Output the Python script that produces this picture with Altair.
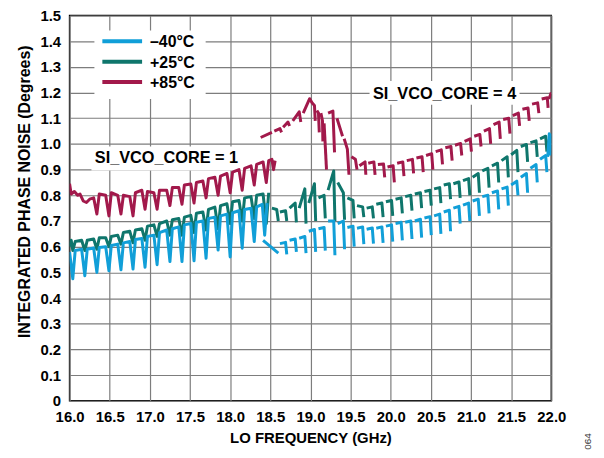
import altair as alt
import pandas as pd

X_TICKS = [16.0, 16.5, 17.0, 17.5, 18.0, 18.5, 19.0, 19.5, 20.0, 20.5, 21.0, 21.5, 22.0]
Y_TICKS = [0.0, 0.1, 0.2, 0.3, 0.4, 0.5, 0.6, 0.7, 0.8, 0.9, 1.0, 1.1, 1.2, 1.3, 1.4, 1.5]
SERIES = ["\u201340°C", "+25°C", "+85°C"]
COLORS = ["#119fd8", "#0f766c", "#a2194b"]
ANNOTATIONS = ["SI_VCO_CORE = 1", "SI_VCO_CORE = 4"]
FIG_ID = ["064"]

# (frequency GHz, integrated phase noise deg); None = break in the trace
BLUE = [
    (16.00, 0.58), (16.04, 0.475), (16.07, 0.585), (16.15, 0.59), (16.19, 0.487), (16.22, 0.59),
    (16.30, 0.595), (16.34, 0.50), (16.37, 0.597), (16.45, 0.60), (16.49, 0.506), (16.52, 0.605),
    (16.60, 0.61), (16.64, 0.51), (16.67, 0.615), (16.75, 0.62), (16.79, 0.513), (16.82, 0.628),
    (16.90, 0.632), (16.94, 0.52), (16.97, 0.64), (17.05, 0.645), (17.09, 0.53), (17.12, 0.655),
    (17.21, 0.665), (17.25, 0.542), (17.28, 0.67), (17.36, 0.677), (17.40, 0.542), (17.43, 0.685),
    (17.51, 0.69), (17.55, 0.545), (17.58, 0.695), (17.66, 0.70), (17.70, 0.555), (17.73, 0.71),
    (17.81, 0.715), (17.85, 0.587), (17.88, 0.72), (17.96, 0.727), (18.00, 0.56), (18.03, 0.732),
    (18.11, 0.74), (18.15, 0.594), (18.18, 0.745), (18.26, 0.75), (18.30, 0.62), (18.33, 0.755),
    (18.40, 0.765), (18.43, 0.645), (18.46, 0.77),
    None, (18.41, 0.625), (18.60, 0.575),
    None, (18.62, 0.612), (18.69, 0.617), (18.705, 0.57),
    None, (18.74, 0.625), (18.81, 0.63), (18.825, 0.58),
    None, (18.86, 0.633), (18.93, 0.64), (18.945, 0.575),
    None, (18.98, 0.66), (19.05, 0.667), (19.065, 0.58),
    None, (19.10, 0.67), (19.17, 0.675), (19.185, 0.585),
    None, (19.22, 0.70), (19.29, 0.70), (19.305, 0.567),
    None, (19.34, 0.69), (19.41, 0.70), (19.425, 0.59),
    None, (19.46, 0.675), (19.53, 0.68), (19.545, 0.60),
    None, (19.58, 0.672), (19.65, 0.677), (19.665, 0.61),
    None, (19.70, 0.668), (19.77, 0.673), (19.785, 0.612),
    None, (19.82, 0.672), (19.89, 0.677), (19.905, 0.615),
    None, (19.94, 0.68), (20.01, 0.685), (20.025, 0.62),
    None, (20.06, 0.69), (20.13, 0.695), (20.145, 0.625),
    None, (20.18, 0.695), (20.25, 0.70), (20.265, 0.63),
    None, (20.30, 0.70), (20.37, 0.707), (20.385, 0.635),
    None, (20.42, 0.712), (20.49, 0.717), (20.505, 0.645),
    None, (20.54, 0.72), (20.61, 0.727), (20.625, 0.65),
    None, (20.66, 0.735), (20.73, 0.742), (20.745, 0.66),
    None, (20.78, 0.75), (20.85, 0.757), (20.865, 0.69),
    None, (20.90, 0.762), (20.97, 0.77), (20.985, 0.70),
    None, (21.02, 0.778), (21.09, 0.785), (21.105, 0.72),
    None, (21.14, 0.795), (21.21, 0.80), (21.225, 0.73),
    None, (21.26, 0.81), (21.33, 0.817), (21.345, 0.745),
    None, (21.38, 0.825), (21.45, 0.832), (21.465, 0.76),
    None, (21.50, 0.84), (21.57, 0.855), (21.585, 0.80),
    None, (21.62, 0.87), (21.69, 0.885), (21.705, 0.81),
    None, (21.74, 0.905), (21.81, 0.92), (21.825, 0.85),
    None, (21.86, 0.94), (21.93, 0.955), (21.945, 0.89),
    None, (21.955, 0.95), (21.975, 1.04), (21.985, 0.96), (22.0, 1.04),
]

TEAL = [
    (16.00, 0.60), (16.02, 0.625), (16.04, 0.585), (16.07, 0.62), (16.15, 0.625), (16.19, 0.585),
    (16.22, 0.625), (16.30, 0.63), (16.34, 0.59), (16.37, 0.635), (16.45, 0.635), (16.49, 0.60),
    (16.52, 0.64), (16.60, 0.645), (16.64, 0.61), (16.67, 0.655), (16.75, 0.66), (16.79, 0.615),
    (16.82, 0.665), (16.90, 0.67), (16.94, 0.625), (16.97, 0.68), (17.05, 0.685), (17.09, 0.64),
    (17.12, 0.69), (17.21, 0.70), (17.25, 0.645), (17.28, 0.705), (17.36, 0.71), (17.40, 0.645),
    (17.43, 0.715), (17.51, 0.722), (17.55, 0.655), (17.58, 0.73), (17.66, 0.735), (17.70, 0.665),
    (17.73, 0.745), (17.81, 0.754), (17.85, 0.67), (17.88, 0.76), (17.96, 0.767), (18.00, 0.69),
    (18.03, 0.775), (18.11, 0.78), (18.15, 0.70), (18.18, 0.79), (18.26, 0.795), (18.30, 0.71),
    (18.33, 0.80), (18.41, 0.805), (18.45, 0.69), (18.48, 0.81),
    None, (18.52, 0.75), (18.58, 0.745), (18.60, 0.70),
    None, (18.62, 0.735), (18.69, 0.74), (18.705, 0.70),
    None, (18.74, 0.75), (18.81, 0.77), (18.825, 0.695),
    None, (18.86, 0.75), (18.93, 0.825), (18.945, 0.69),
    None, (18.98, 0.77), (19.05, 0.845), (19.065, 0.70),
    None, (19.10, 0.79), (19.17, 0.80), (19.185, 0.71),
    None, (19.22, 0.82), (19.29, 0.895), (19.305, 0.70),
    None, (19.34, 0.85), (19.41, 0.81), (19.425, 0.705),
    None, (19.46, 0.79), (19.53, 0.78), (19.545, 0.71),
    None, (19.58, 0.76), (19.65, 0.755), (19.665, 0.715),
    None, (19.70, 0.75), (19.77, 0.755), (19.785, 0.71),
    None, (19.82, 0.765), (19.89, 0.77), (19.905, 0.715),
    None, (19.94, 0.775), (20.01, 0.78), (20.025, 0.72),
    None, (20.06, 0.785), (20.13, 0.79), (20.145, 0.73),
    None, (20.18, 0.795), (20.25, 0.80), (20.265, 0.74),
    None, (20.30, 0.805), (20.37, 0.81), (20.385, 0.75),
    None, (20.42, 0.815), (20.49, 0.82), (20.505, 0.76),
    None, (20.54, 0.825), (20.61, 0.83), (20.625, 0.77),
    None, (20.66, 0.84), (20.73, 0.845), (20.745, 0.785),
    None, (20.78, 0.845), (20.85, 0.852), (20.865, 0.79),
    None, (20.90, 0.857), (20.97, 0.865), (20.985, 0.80),
    None, (21.02, 0.87), (21.09, 0.885), (21.105, 0.81),
    None, (21.14, 0.895), (21.21, 0.905), (21.225, 0.83),
    None, (21.26, 0.915), (21.33, 0.925), (21.345, 0.85),
    None, (21.38, 0.935), (21.45, 0.95), (21.465, 0.87),
    None, (21.50, 0.958), (21.57, 0.975), (21.585, 0.89),
    None, (21.62, 0.99), (21.69, 0.998), (21.705, 0.93),
    None, (21.74, 1.005), (21.81, 1.012), (21.825, 0.95),
    None, (21.86, 1.02), (21.93, 1.03), (21.945, 0.97),
    None, (21.955, 1.0), (21.99, 1.03),
]

RED = [
    (16.00, 0.845), (16.02, 0.805), (16.06, 0.815), (16.10, 0.80), (16.13, 0.805), (16.17, 0.778),
    (16.21, 0.772), (16.25, 0.785), (16.30, 0.79), (16.34, 0.727), (16.37, 0.805), (16.45, 0.80),
    (16.49, 0.72), (16.52, 0.81), (16.60, 0.80), (16.64, 0.727), (16.67, 0.80), (16.75, 0.795),
    (16.79, 0.72), (16.82, 0.81), (16.90, 0.82), (16.94, 0.746), (16.97, 0.815), (17.05, 0.81),
    (17.09, 0.746), (17.12, 0.82), (17.21, 0.82), (17.25, 0.76), (17.28, 0.83), (17.36, 0.83),
    (17.40, 0.765), (17.43, 0.84), (17.51, 0.844), (17.55, 0.77), (17.58, 0.85), (17.66, 0.856),
    (17.70, 0.79), (17.73, 0.865), (17.81, 0.87), (17.85, 0.80), (17.88, 0.875), (17.96, 0.885),
    (18.00, 0.81), (18.03, 0.89), (18.11, 0.90), (18.15, 0.82), (18.18, 0.905), (18.26, 0.915),
    (18.30, 0.84), (18.33, 0.92), (18.41, 0.93), (18.45, 0.85), (18.48, 0.935), (18.52, 0.94),
    (18.54, 0.90), (18.56, 0.935),
    None, (18.38, 1.025), (18.52, 1.045),
    None, (18.55, 1.05), (18.62, 1.06), (18.64, 1.045),
    None, (18.66, 1.065), (18.72, 1.085), (18.74, 1.07),
    None, (18.78, 1.09), (18.86, 1.125), (18.88, 1.085),
    None, (18.91, 1.12), (18.99, 1.176), (19.02, 1.16), (19.05, 1.15), (19.06, 1.09),
    None, (19.08, 1.13), (19.10, 1.12), (19.11, 1.045),
    None, (19.13, 1.12), (19.15, 1.09), (19.155, 1.01),
    None, (19.17, 1.08), (19.20, 0.90),
    None, (19.22, 1.12), (19.28, 1.128), (19.30, 0.967),
    None, (19.33, 1.10), (19.38, 1.05), (19.40, 1.03),
    None, (19.42, 1.02), (19.46, 0.98), (19.48, 0.88),
    None, (19.51, 0.95), (19.56, 0.94), (19.58, 0.90),
    None, (19.61, 0.915), (19.68, 0.93), (19.69, 0.88),
    None, (19.72, 0.925), (19.79, 0.93), (19.805, 0.88),
    None, (19.84, 0.92), (19.91, 0.922), (19.925, 0.87),
    None, (19.96, 0.91), (20.03, 0.915), (20.045, 0.85),
    None, (20.08, 0.925), (20.15, 0.93), (20.165, 0.875),
    None, (20.20, 0.935), (20.27, 0.94), (20.285, 0.885),
    None, (20.32, 0.945), (20.39, 0.95), (20.405, 0.89),
    None, (20.44, 0.955), (20.51, 0.962), (20.525, 0.90),
    None, (20.56, 0.97), (20.63, 0.977), (20.645, 0.92),
    None, (20.68, 0.985), (20.75, 0.99), (20.765, 0.935),
    None, (20.80, 0.995), (20.87, 1.002), (20.885, 0.955),
    None, (20.92, 1.01), (20.99, 1.02), (21.005, 0.97),
    None, (21.04, 1.03), (21.11, 1.037), (21.125, 0.99),
    None, (21.16, 1.05), (21.23, 1.06), (21.245, 1.0),
    None, (21.28, 1.075), (21.35, 1.085), (21.365, 1.02),
    None, (21.40, 1.095), (21.47, 1.10), (21.485, 1.04),
    None, (21.52, 1.11), (21.59, 1.12), (21.605, 1.07),
    None, (21.64, 1.135), (21.71, 1.14), (21.725, 1.09),
    None, (21.76, 1.155), (21.83, 1.16), (21.845, 1.12),
    None, (21.88, 1.175), (21.95, 1.18), (21.96, 1.14),
    None, (21.97, 1.175), (22.0, 1.20),
]

FONT = "Liberation Sans"


def to_frame(points, name):
    rows, seg = [], 0
    for i, p in enumerate(points):
        if p is None:
            seg += 1
            continue
        rows.append({"f": p[0], "v": p[1], "seg": seg, "i": i, "series": name})
    return pd.DataFrame(rows)


x_enc = alt.X(
    "f:Q",
    scale=alt.Scale(domain=[16, 22], nice=False, zero=False),
    axis=alt.Axis(values=X_TICKS, format=".1f", title="LO FREQUENCY (GHz)",
                  labelFlush=False, labelOverlap=False, labelPadding=9, titlePadding=6,
                  titleFontSize=15),
)
y_enc = alt.Y(
    "v:Q",
    scale=alt.Scale(domain=[0, 1.5], nice=False),
    axis=alt.Axis(values=Y_TICKS, labelExpr="datum.value == 0 ? '0' : format(datum.value, '.1f')",
                  title="INTEGRATED PHASE NOISE (Degrees)", labelPadding=9, titlePadding=8,
                  titleFontSize=16, titleY=177, labelOverlap=False, labelFlush=False),
)

layers = []

# white backgrounds for legend and annotations (hide the grid)
for (x0, x1, y0, y1) in [(25, 137, 15, 84), (22, 183, 132, 156), (302, 453, 66, 90)]:
    layers.append(
        alt.Chart(pd.DataFrame({"k": [0]})).mark_rect(color="white").encode(
            x=alt.value(x0), x2=alt.value(x1), y=alt.value(y0), y2=alt.value(y1)
        )
    )

for pts, name, col in [(RED, SERIES[2], COLORS[2]), (TEAL, SERIES[1], COLORS[1]), (BLUE, SERIES[0], COLORS[0])]:
    df = to_frame(pts, name)
    ch = alt.Chart(df).mark_line(color=col, strokeWidth=3, strokeJoin="round", clip=True).encode(
        x=x_enc,
        y=y_enc,
        detail="seg:N",
        order="i:Q",
    )
    layers.append(ch)

# manual legend
for k, (lab, col) in enumerate(zip(SERIES, COLORS)):
    yy = 26 + k * 20.5
    layers.append(
        alt.Chart(pd.DataFrame({"t": [lab]})).mark_rule(color=col, strokeWidth=4).encode(
            x=alt.value(33), x2=alt.value(73), y=alt.value(yy)
        )
    )
    layers.append(
        alt.Chart(pd.DataFrame({"t": [lab]})).mark_text(
            align="left", baseline="middle", font=FONT, fontSize=16, fontWeight="bold", color="black"
        ).encode(x=alt.value(81), y=alt.value(yy + 1), text="t:N")
    )

# annotations
for lab, (xx, yy) in zip(ANNOTATIONS, [(97.5, 144), (377.5, 79)]):
    layers.append(
        alt.Chart(pd.DataFrame({"t": [lab]})).mark_text(
            align="center", baseline="middle", font=FONT, fontSize=16.4, fontWeight="bold", color="black"
        ).encode(x=alt.value(xx), y=alt.value(yy), text="t:N")
    )

layers.append(
    alt.Chart(pd.DataFrame({"t": FIG_ID})).mark_text(
        align="center", baseline="middle", font=FONT, fontSize=10, angle=270, color="#333333"
    ).encode(x=alt.value(522), y=alt.value(429), text="t:N")
)

chart = alt.layer(*layers).properties(
    width=485, height=388,
    autosize=alt.AutoSizeParams(type="none"),
    padding={"left": 62, "top": 6, "right": 45, "bottom": 55},
).configure_view(
    stroke="black", strokeWidth=1.5
).configure_axis(
    grid=True, gridColor="#7d7d7d", gridWidth=1.2, domain=False, ticks=False,
    labelFont=FONT, labelFontSize=15, labelFontWeight="bold", labelColor="black",
    titleFont=FONT, titleFontWeight="bold", titleColor="black",
)

chart.save("out.html", embed_options={"renderer": "svg", "actions": False})
